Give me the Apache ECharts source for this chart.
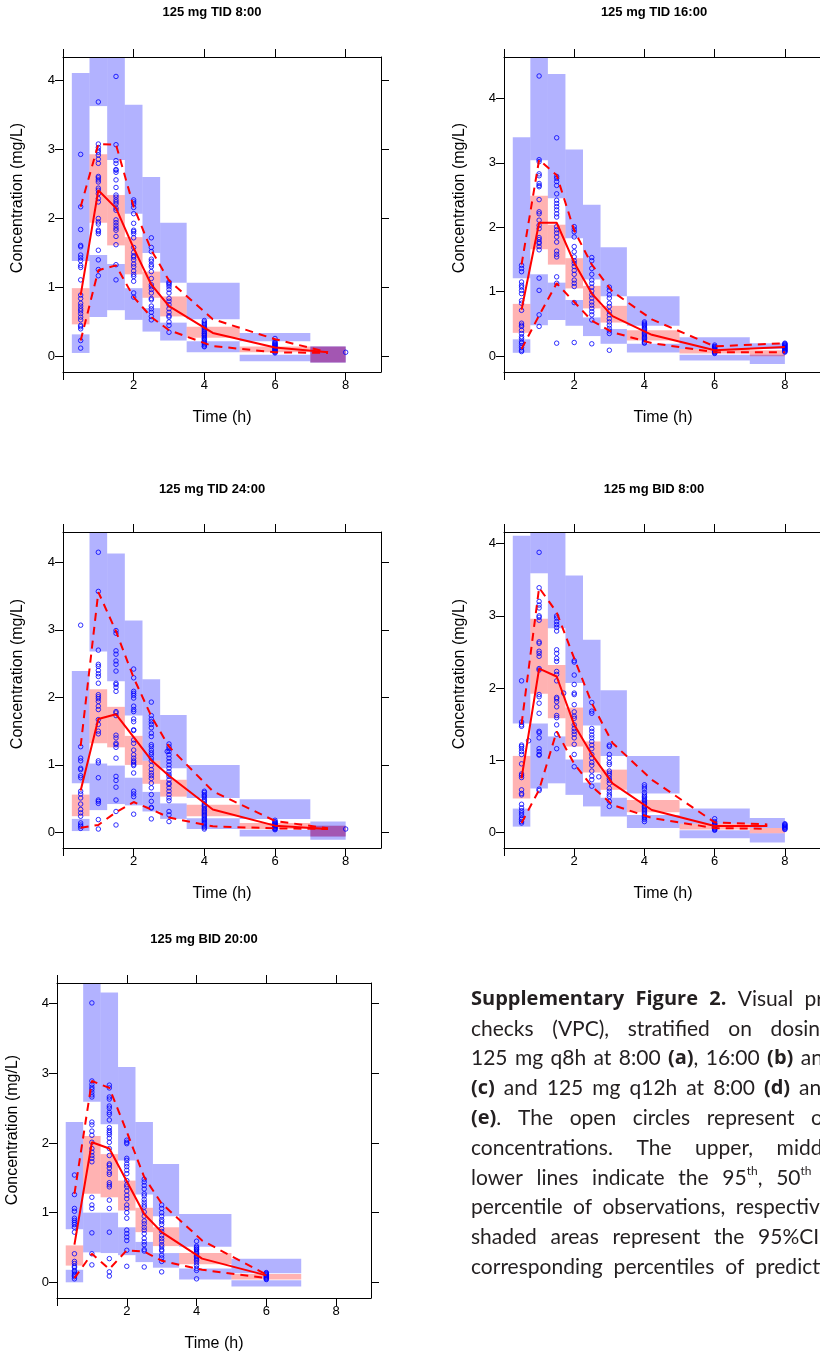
<!DOCTYPE html>
<html><head><meta charset="utf-8">
<script src="https://cdn.jsdelivr.net/npm/echarts@6/dist/echarts.min.js"></script>
<style>html,body{margin:0;padding:0;background:#fff}#c{width:820px;height:1356px}</style>
</head><body><div id="c"></div><script>
// ---------------- DATA ----------------
const TITLES = ["125 mg TID 8:00", "125 mg TID 16:00", "125 mg TID 24:00", "125 mg BID 8:00", "125 mg BID 20:00"];
const X_TICK_MARKS = [0, 2, 4, 6, 8];
const X_TICK_LABELS = [2, 4, 6, 8];
const Y_TICKS = [0, 1, 2, 3, 4];
const BIN_EDGES = [0.25, 0.75, 1.25, 1.75, 2.25, 2.75, 3.5, 5, 7, 8];

// Panel 1: 125 mg TID 8:00
const P1_HI = [[1.385,4.11],[3.63,4.5],[2.85,4.5],[2.07,3.65],[1.50,2.60],[1.07,1.94],[0.54,1.07],[0.22,0.34],[-0.087,0.145]];
const P1_MED = [[0.465,0.99],[1.94,2.93],[1.61,2.34],[1.19,1.73],[0.85,1.23],[0.58,0.87],[0.27,0.43],[0.06,0.145],[-0.087,0.145]];
const P1_LO = [[0.05,0.32],[0.57,1.47],[0.67,1.34],[0.53,0.99],[0.36,0.70],[0.23,0.49],[0.06,0.22],[-0.07,0.025],[-0.087,0.145]];
const P1_LX = [0.5,1,1.5,2,2.5,3,4.24,6,7.5];
const P1_P95 = [2.17,3.08,3.07,2.17,1.54,1.10,0.54,0.25,0.06];
const P1_P50 = [0.89,2.41,2.15,1.57,1.04,0.73,0.34,0.13,0.06];
const P1_P05 = [0.23,1.25,1.32,0.86,0.57,0.38,0.15,0.06,0.05];
const P1_OBS = [
  [0.5, [2.93,2.17,1.84,1.61,1.59,1.47,1.43,1.39,1.32,1.29,1.11,0.89,0.84,0.77,0.73,0.69,0.66,0.62,0.57,0.53,0.45,0.43,0.40,0.23,0.12]],
  [1, [3.69,3.08,3.03,2.99,2.96,2.92,2.86,2.80,2.61,2.59,2.56,2.53,2.44,2.41,2.36,2.29,2.24,2.00,1.95,1.92,1.83,1.81,1.78,1.54,1.40,1.26,1.17]],
  [1.5, [4.06,3.07,2.84,2.80,2.71,2.70,2.67,2.56,2.45,2.34,2.31,2.27,2.24,2.21,2.15,2.12,1.98,1.94,1.90,1.86,1.83,1.74,1.62,1.33,1.11]],
  [2, [2.27,2.24,2.21,2.16,2.07,1.93,1.83,1.81,1.78,1.72,1.58,1.51,1.46,1.44,1.40,1.34,1.30,1.24,1.19,1.16,1.09,0.92,0.86]],
  [2.5, [1.72,1.58,1.52,1.41,1.38,1.33,1.30,1.23,1.13,1.04,1.01,0.97,0.92,0.84,0.82,0.73,0.69,0.64,0.58,0.53]],
  [3, [1.08,1.06,1.04,1.01,0.97,0.92,0.84,0.80,0.75,0.69,0.64,0.59,0.57,0.50,0.45,0.35]],
  [4, [0.52,0.50,0.48,0.46,0.44,0.42,0.40,0.38,0.36,0.34,0.33,0.31,0.30,0.28,0.26,0.25,0.23,0.21,0.19,0.17,0.15,0.14]],
  [6, [0.26,0.22,0.20,0.19,0.18,0.17,0.16,0.15,0.14,0.13,0.12,0.11,0.10,0.09,0.08,0.07,0.06,0.05]],
  [8, [0.06]]
];

// Panel 2: 125 mg TID 16:00
const P2_HI = [[1.21,3.40],[3.04,4.8],[2.45,4.38],[1.83,3.21],[1.19,2.35],[0.93,1.69],[0.47,0.93],[0.11,0.29],[0.11,0.20]];
const P2_MED = [[0.36,0.81],[1.66,2.49],[1.42,2.04],[1.05,1.52],[0.74,1.09],[0.52,0.78],[0.24,0.40],[0.04,0.11],[-0.005,0.09]];
const P2_LO = [[0.05,0.26],[0.48,1.27],[0.56,1.14],[0.47,0.87],[0.31,0.60],[0.19,0.42],[0.055,0.19],[-0.07,0.02],[-0.125,0.02]];
const P2_LX = [0.5,1,1.5,2,2.5,3.09,4.21,6,8];
const P2_P95 = [1.42,3.05,2.81,1.95,1.42,1.00,0.57,0.15,0.20];
const P2_P50 = [0.72,2.07,2.07,1.45,0.97,0.62,0.33,0.09,0.14];
const P2_P05 = [0.11,0.63,1.13,0.84,0.55,0.37,0.20,0.06,0.06];
const P2_OBS = [
  [0.5, [1.41,1.36,1.31,1.15,1.10,1.07,1.02,0.97,0.86,0.82,0.71,0.51,0.48,0.46,0.40,0.35,0.30,0.27,0.22,0.20,0.16,0.13,0.09,0.07]],
  [1, [4.35,3.05,3.02,2.83,2.80,2.68,2.65,2.63,2.43,2.24,2.21,2.11,2.03,1.98,1.84,1.81,1.77,1.75,1.70,1.65,1.21,1.02,0.64,0.46]],
  [1.5, [3.39,2.79,2.76,2.71,2.65,2.52,2.42,2.37,2.32,2.27,2.21,2.16,2.01,1.96,1.91,1.85,1.77,1.63,1.58,1.54,1.23,1.13,0.20]],
  [2, [2.01,1.97,1.93,1.85,1.70,1.62,1.54,1.48,1.44,1.39,1.33,1.27,1.18,1.13,1.08,0.83,0.21]],
  [2.5, [1.53,1.48,1.36,1.27,1.18,1.13,1.07,1.01,0.95,0.90,0.84,0.79,0.74,0.69,0.64,0.56,0.19]],
  [3, [1.07,1.02,0.95,0.90,0.82,0.77,0.69,0.64,0.58,0.53,0.48,0.43,0.39,0.35,0.09]],
  [4, [0.53,0.51,0.49,0.47,0.45,0.43,0.41,0.39,0.37,0.35,0.33,0.31,0.29,0.27,0.25,0.23,0.21,0.20]],
  [6, [0.17,0.15,0.14,0.13,0.12,0.11,0.10,0.09,0.08,0.07,0.06,0.05,0.04]],
  [8, [0.20,0.19,0.18,0.17,0.16,0.15,0.14,0.13,0.12,0.11,0.10,0.09,0.08,0.07,0.06]]
];

// Panel 3: 125 mg TID 24:00
const P3_HI = [[0.73,2.39],[2.68,4.6],[2.24,4.13],[1.73,3.14],[1.06,2.27],[0.95,1.74],[0.51,1.00],[0.20,0.49],[-0.06,0.16]];
const P3_MED = [[0.24,0.56],[1.32,2.12],[1.26,1.86],[1.00,1.43],[0.72,1.06],[0.53,0.78],[0.24,0.41],[0.05,0.14],[-0.06,0.10]];
const P3_LO = [[0.02,0.20],[0.33,1.02],[0.42,0.99],[0.40,0.81],[0.31,0.60],[0.20,0.43],[0.05,0.21],[-0.06,0.04],[-0.11,0.10]];
const P3_LX = [0.5,1,1.5,2,2.5,3,4.24,6,7.5];
const P3_P95 = [1.28,3.56,2.98,2.29,1.72,1.27,0.61,0.17,0.06];
const P3_P50 = [0.62,1.68,1.75,1.41,1.07,0.84,0.34,0.10,0.05];
const P3_P05 = [0.07,0.11,0.30,0.45,0.34,0.22,0.09,0.06,0.05];
const P3_OBS = [
  [0.5, [3.07,1.27,1.10,1.06,0.95,0.93,0.84,0.81,0.61,0.57,0.51,0.42,0.34,0.29,0.24,0.14,0.11,0.09,0.06]],
  [1, [4.15,3.57,2.70,2.49,2.46,2.40,2.35,2.31,2.21,2.04,2.01,1.98,1.94,1.87,1.82,1.67,1.60,1.50,1.46,1.06,1.03,0.81,0.48,0.46,0.43,0.19,0.05]],
  [1.5, [2.99,2.95,2.69,2.64,2.54,2.49,2.39,2.21,2.19,2.15,2.09,1.79,1.77,1.73,1.44,1.40,1.32,1.30,1.26,1.10,0.83,0.77,0.67,0.48,0.31,0.11]],
  [2, [2.42,2.29,2.09,2.06,2.03,1.99,1.87,1.82,1.79,1.68,1.64,1.52,1.51,1.37,1.32,1.22,1.15,1.10,1.06,1.04,1.01,0.99,0.88,0.61,0.57,0.53,0.27]],
  [2.5, [1.93,1.73,1.68,1.64,1.60,1.55,1.47,1.42,1.30,1.27,1.22,1.18,1.15,1.10,1.06,0.99,0.93,0.88,0.84,0.80,0.73,0.66,0.56,0.46,0.37,0.36,0.20]],
  [2.95, [1.20]],
  [3, [1.31,1.27,1.24,1.20,1.15,1.10,1.05,1.00,0.95,0.90,0.86,0.83,0.78,0.73,0.71,0.66,0.61,0.56,0.51,0.47,0.31,0.26,0.16]],
  [4, [0.61,0.59,0.56,0.54,0.52,0.49,0.47,0.45,0.42,0.40,0.38,0.35,0.33,0.31,0.29,0.27,0.25,0.23,0.21,0.19,0.17,0.15,0.13,0.11,0.09,0.07,0.05]],
  [6, [0.18,0.16,0.15,0.14,0.13,0.12,0.11,0.10,0.09,0.08,0.07,0.06,0.05,0.04]],
  [8, [0.05]]
];

// Panel 4: 125 mg BID 8:00
const P4_HI = [[1.51,4.11],[3.59,4.3],[2.83,4.3],[2.07,3.56],[1.48,2.67],[1.06,1.97],[0.54,1.06],[0.12,0.33],[0.06,0.20]];
const P4_MED = [[0.47,1.06],[1.92,2.96],[1.58,2.32],[1.19,1.73],[0.83,1.26],[0.59,0.87],[0.28,0.45],[0.04,0.12],[-0.01,0.06]];
const P4_LO = [[0.08,0.33],[0.61,1.51],[0.68,1.33],[0.52,1.01],[0.36,0.69],[0.22,0.48],[0.06,0.24],[-0.08,0.03],[-0.14,-0.01]];
const P4_LX = [0.5,1,1.5,2,2.5,3.09,4.21,6,7.5];
const P4_P95 = [1.50,3.39,3.05,2.41,1.79,1.24,0.73,0.14,0.11];
const P4_P50 = [0.75,2.27,2.16,1.49,1.08,0.68,0.31,0.09,0.09];
const P4_P05 = [0.13,0.59,1.40,0.95,0.64,0.38,0.20,0.06,0.05];
const P4_OBS = [
  [0.5, [2.10,1.53,1.49,1.47,1.21,1.19,1.16,1.12,1.08,0.95,0.81,0.79,0.76,0.59,0.54,0.52,0.39,0.34,0.30,0.27,0.24,0.20,0.18,0.15,0.13]],
  [0.7, [1.27]],
  [1, [3.88,3.39,3.20,3.15,3.11,3.00,2.98,2.94,2.64,2.62,2.51,2.48,2.44,2.27,2.25,1.91,1.88,1.79,1.65,1.40,1.38,1.31,1.16,1.12,1.08,1.07,0.60,0.58]],
  [1.5, [3.00,2.97,2.92,2.88,2.84,2.79,2.53,2.48,2.41,2.37,2.23,2.19,2.10,1.87,1.85,1.81,1.74,1.62,1.59,1.49,1.36,1.16]],
  [1.7, [1.93]],
  [2, [2.38,2.36,2.18,2.05,1.93,1.91,1.77,1.67,1.61,1.58,1.49,1.44,1.40,1.36,1.31,1.22,1.08,0.91]],
  [2.5, [1.80,1.68,1.65,1.44,1.40,1.35,1.31,1.26,1.21,1.16,1.08,1.03,0.97,0.93,0.85,0.78,0.73,0.64]],
  [2.7, [0.77]],
  [3, [1.21,1.19,1.08,1.03,0.97,0.94,0.85,0.82,0.79,0.75,0.72,0.68,0.61,0.57,0.53,0.50,0.43,0.36]],
  [4, [0.66,0.63,0.60,0.55,0.52,0.50,0.48,0.46,0.44,0.42,0.40,0.38,0.36,0.34,0.32,0.30,0.28,0.26,0.24,0.22,0.20,0.18,0.15]],
  [6, [0.19,0.15,0.13,0.12,0.11,0.10,0.09,0.08,0.07,0.06,0.05,0.04,0.03]],
  [8, [0.12,0.11,0.10,0.09,0.08,0.07,0.06,0.05,0.04]]
];

// Panel 5: 125 mg BID 20:00
const P5_HI = [[0.76,2.30],[2.59,4.45],[2.27,4.16],[1.75,3.09],[1.26,2.30],[0.95,1.70],[0.51,0.98],[0.13,0.34]];
const P5_MED = [[0.24,0.53],[1.27,2.10],[1.22,1.84],[1.03,1.46],[0.72,1.07],[0.52,0.79],[0.26,0.42],[0.04,0.12]];
const P5_LO = [[0.0,0.18],[0.43,1.0],[0.42,1.0],[0.39,0.79],[0.29,0.58],[0.21,0.42],[0.04,0.20],[-0.06,0.03]];
const P5_LX = [0.5,1,1.5,2,2.5,3,4.16,6];
const P5_P95 = [1.27,2.89,2.79,2.16,1.51,1.13,0.60,0.11];
const P5_P50 = [0.54,2.01,1.92,1.45,0.98,0.72,0.34,0.10];
const P5_P05 = [0.06,0.41,0.19,0.46,0.44,0.31,0.18,0.06];
const P5_OBS = [
  [0.5, [1.54,1.26,1.06,1.02,0.92,0.89,0.86,0.83,0.79,0.72,0.41,0.30,0.27,0.23,0.21,0.17,0.15,0.12,0.10,0.08,0.05]],
  [1, [4.01,2.89,2.84,2.80,2.77,2.73,2.69,2.66,2.30,2.26,2.17,2.11,2.01,1.92,1.87,1.82,1.78,1.73,1.22,1.11,1.06,0.71,0.41,0.25]],
  [1.5, [2.83,2.79,2.66,2.63,2.53,2.50,2.44,2.41,2.33,2.22,2.18,2.15,2.12,2.07,2.01,1.92,1.82,1.70,1.68,1.64,1.58,1.55,1.43,1.40,1.37,1.18,1.06,0.72,0.34,0.15,0.09]],
  [2, [2.04,2.01,1.99,1.78,1.75,1.70,1.66,1.61,1.56,1.46,1.40,1.37,1.31,1.25,1.20,1.11,1.06,1.00,0.92,0.75,0.70,0.65,0.60,0.46,0.23]],
  [2.5, [1.48,1.44,1.39,1.34,1.27,1.24,1.19,1.15,1.11,1.08,1.01,0.95,0.88,0.84,0.79,0.75,0.70,0.63,0.58,0.54,0.47,0.45,0.22]],
  [3, [1.11,1.06,1.00,0.95,0.90,0.87,0.83,0.77,0.73,0.67,0.63,0.59,0.54,0.51,0.47,0.45,0.39,0.35,0.30,0.15]],
  [4, [0.59,0.52,0.50,0.48,0.47,0.45,0.43,0.41,0.39,0.37,0.35,0.33,0.31,0.28,0.24,0.20,0.17,0.05]],
  [6, [0.14,0.13,0.12,0.11,0.10,0.09,0.08,0.07,0.06,0.05,0.04]]
];

const CAPTION_LINES = [
  "**Supplementary** **Figure** **2.** Visual predictive",
  "checks (VPC), stratified on dosing time:",
  "125 mg q8h at 8:00 **(a)**, 16:00 **(b)** and 24:00",
  "**(c)** and 125 mg q12h at 8:00 **(d)** and 20:00",
  "**(e)**. The open circles represent observed",
  "concentrations. The upper, middle and",
  "lower lines indicate the 95^th^, 50^th^ and 5^th^",
  "percentile of observations, respectively. The",
  "shaded areas represent the 95%CI of the",
  "corresponding percentiles of predictions."
];

// ---------------- LAYOUT ----------------
const FONT = "'Liberation Sans', Arial, Helvetica, sans-serif";
const LAYOUT = [
  {left:63, top:57, width:318, height:315, ymin:-0.226, ymax:4.342, title:[212,12], ylab:[18,198], xlab:[222,418]},
  {left:504, top:57, width:319, height:315, ymin:-0.248, ymax:4.645, title:[654,12], ylab:[460,198], xlab:[663,418]},
  {left:63, top:532, width:318, height:316, ymin:-0.231, ymax:4.45, title:[212,489], ylab:[18,674], xlab:[222,894]},
  {left:504, top:532, width:319, height:316, ymin:-0.216, ymax:4.162, title:[654,489], ylab:[460,674], xlab:[663,894]},
  {left:57, top:983, width:314, height:315, ymin:-0.225, ymax:4.296, title:[204,939], ylab:[13,1130], xlab:[214,1344]}
];
const PANELS = [
  {hi:P1_HI, med:P1_MED, lo:P1_LO, lx:P1_LX, p95:P1_P95, p50:P1_P50, p05:P1_P05, obs:P1_OBS},
  {hi:P2_HI, med:P2_MED, lo:P2_LO, lx:P2_LX, p95:P2_P95, p50:P2_P50, p05:P2_P05, obs:P2_OBS},
  {hi:P3_HI, med:P3_MED, lo:P3_LO, lx:P3_LX, p95:P3_P95, p50:P3_P50, p05:P3_P05, obs:P3_OBS},
  {hi:P4_HI, med:P4_MED, lo:P4_LO, lx:P4_LX, p95:P4_P95, p50:P4_P50, p05:P4_P05, obs:P4_OBS},
  {hi:P5_HI, med:P5_MED, lo:P5_LO, lx:P5_LX, p95:P5_P95, p50:P5_P50, p05:P5_P05, obs:P5_OBS}
];

const BLUE = 'rgba(0,0,255,0.3)';
const RED_FILL = 'rgba(255,0,0,0.3)';

function renderRect(params, api) {
  const p0 = api.coord([api.value(0), api.value(3)]);
  const p1 = api.coord([api.value(1), api.value(2)]);
  const cs = params.coordSys;
  const shape = echarts.graphic.clipRectByRect(
    {x: p0[0], y: p0[1], width: p1[0] - p0[0], height: p1[1] - p0[1]},
    {x: cs.x, y: cs.y, width: cs.width, height: cs.height});
  return shape && {type: 'rect', shape: shape, style: {fill: api.visual('color')}};
}
function rectData(ci) {
  return ci.map((r, i) => [BIN_EDGES[i], BIN_EDGES[i + 1], r[0], r[1]]);
}

const grids = [], xAxes = [], yAxes = [], series = [], graphics = [];
const tickLine = {color: '#000', width: 1};
LAYOUT.forEach((L, i) => {
  const P = PANELS[i];
  grids.push({left: L.left, top: L.top, width: L.width, height: L.height, containLabel: false});
  const xBase = {gridIndex: i, type: 'value', min: 0, max: 9, z: 10,
    axisLine: {show: true, onZero: false, lineStyle: tickLine}, splitLine: {show: false},
    axisTick: {show: true, inside: false, length: 8, lineStyle: tickLine, customValues: X_TICK_MARKS}};
  xAxes.push(Object.assign({}, xBase, {position: 'bottom',
    axisLabel: {show: true, customValues: X_TICK_LABELS, margin: 7, color: '#000', fontSize: 13, fontFamily: FONT}}));
  xAxes.push(Object.assign({}, xBase, {position: 'top', axisLabel: {show: false}}));
  const yBase = {gridIndex: i, type: 'value', min: L.ymin, max: L.ymax, z: 10,
    axisLine: {show: true, onZero: false, lineStyle: tickLine}, splitLine: {show: false},
    axisTick: {show: true, inside: false, length: 8, lineStyle: tickLine, customValues: Y_TICKS}};
  yAxes.push(Object.assign({}, yBase, {position: 'left',
    axisLabel: {show: true, customValues: Y_TICKS, margin: 8, color: '#000', fontSize: 13, fontFamily: FONT}}));
  yAxes.push(Object.assign({}, yBase, {position: 'right', axisLabel: {show: false}}));
  const xi = 2 * i, yi = 2 * i;
  series.push({type: 'custom', xAxisIndex: xi, yAxisIndex: yi, renderItem: renderRect, z: 1,
    itemStyle: {color: BLUE}, encode: {x: [0, 1], y: [2, 3]}, data: rectData(P.hi).concat(rectData(P.lo)), silent: true});
  series.push({type: 'custom', xAxisIndex: xi, yAxisIndex: yi, renderItem: renderRect, z: 1,
    itemStyle: {color: RED_FILL}, encode: {x: [0, 1], y: [2, 3]}, data: rectData(P.med), silent: true});
  const pts = [];
  P.obs.forEach(g => g[1].forEach(v => pts.push([g[0], v])));
  series.push({type: 'scatter', xAxisIndex: xi, yAxisIndex: yi, z: 3, symbol: 'circle', symbolSize: 4.5,
    itemStyle: {color: 'rgba(0,0,0,0)', borderColor: '#0000ff', borderWidth: 1}, data: pts, silent: true});
  const mk = (ys, dashed) => ({type: 'line', xAxisIndex: xi, yAxisIndex: yi, z: 4, symbol: 'none', silent: true,
    lineStyle: {color: '#ff0000', width: 2, type: dashed ? [8, 6] : 'solid'},
    data: P.lx.map((x, k) => [x, ys[k]])});
  series.push(mk(P.p95, true), mk(P.p05, true), mk(P.p50, false));
  graphics.push({type: 'text', x: L.title[0], y: L.title[1], silent: true,
    style: {text: TITLES[i], fontFamily: FONT, fontWeight: 'bold', fontSize: 13, fill: '#000', align: 'center', verticalAlign: 'middle'}});
  graphics.push({type: 'text', x: L.ylab[0], y: L.ylab[1], rotation: Math.PI / 2, silent: true,
    style: {text: 'Concentration (mg/L)', fontFamily: FONT, fontSize: 16, fill: '#000', align: 'center', verticalAlign: 'middle'}});
  graphics.push({type: 'text', x: L.xlab[0], y: L.xlab[1], silent: true,
    style: {text: 'Time (h)', fontFamily: FONT, fontSize: 16, fill: '#000', align: 'center', verticalAlign: 'middle'}});
});

// ---------------- CAPTION (justified) ----------------
const CAP_FONT = "Lato", CAP_BOLD_FONT = "'Open Sans'";
const CAP_SIZE = 21, CAP_BOLD_SIZE = 20, SUP_SIZE = 12;
const CAP_X = 471, CAP_Y0 = 999, CAP_DY = 29.8, CAP_W = 425, LAST_GAP = 11;
const mctx = document.createElement('canvas').getContext('2d');
function fontOf(p) {
  if (p.b) return {family: CAP_BOLD_FONT, size: CAP_BOLD_SIZE, weight: 'bold'};
  return {family: CAP_FONT, size: p.s ? SUP_SIZE : CAP_SIZE, weight: 'normal'};
}
function measure(t, f) { mctx.font = f.weight + ' ' + f.size + 'px ' + f.family; return mctx.measureText(t).width; }
function parseWord(w) {
  const parts = [];
  w.split(/(\*\*[^*]+\*\*|\^[^^]+\^)/).forEach(s => {
    if (!s) return;
    if (s.startsWith('**')) parts.push({t: s.slice(2, -2), b: true, s: false});
    else if (s.startsWith('^')) parts.push({t: s.slice(1, -1), b: false, s: true});
    else parts.push({t: s, b: false, s: false});
  });
  parts.forEach(p => { p.f = fontOf(p); p.w = measure(p.t, p.f); });
  return {parts, w: parts.reduce((a, p) => a + p.w, 0)};
}
CAPTION_LINES.forEach((line, k) => {
  const words = line.split(' ').map(parseWord);
  const total = words.reduce((a, w) => a + w.w, 0);
  const last = k === CAPTION_LINES.length - 1;
  const gap = last ? LAST_GAP : (CAP_W - total) / (words.length - 1);
  let x = CAP_X;
  const y = CAP_Y0 + k * CAP_DY;
  words.forEach(w => {
    w.parts.forEach(p => {
      graphics.push({type: 'text', x: x, y: p.s ? y - 7 : y, silent: true,
        style: {text: p.t, fontFamily: p.f.family, fontSize: p.f.size, fontWeight: p.f.weight,
          fill: '#231f20', align: 'left', verticalAlign: 'middle'}});
      x += p.w;
    });
    x += gap;
  });
});

const chart = echarts.init(document.getElementById('c'), null, {renderer: 'canvas', width: 820, height: 1356});
chart.setOption({
  animation: false,
  backgroundColor: '#fff',
  grid: grids, xAxis: xAxes, yAxis: yAxes, series: series,
  graphic: {elements: graphics}
});
</script></body></html>
